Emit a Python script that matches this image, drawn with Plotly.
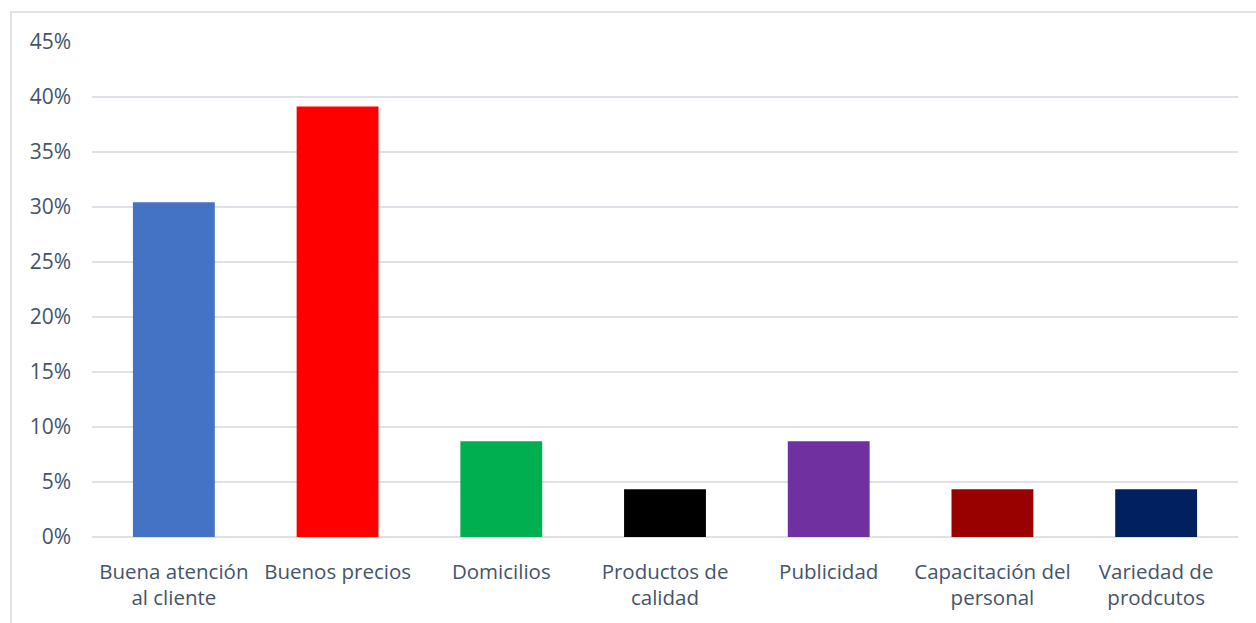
import plotly.graph_objects as go

# Factor categories and their share of responses
categorias = [
    "Buena atención<br>al cliente",
    "Buenos precios",
    "Domicilios",
    "Productos de<br>calidad",
    "Publicidad",
    "Capacitación del<br>personal",
    "Variedad de<br>prodcutos",
]
porcentajes = [0.3043, 0.3913, 0.0870, 0.0435, 0.0870, 0.0435, 0.0435]
colores = ["#4472C4", "#FF0000", "#00B050", "#000000", "#7030A0", "#990000", "#002060"]

ticks_y = [0, 0.05, 0.10, 0.15, 0.20, 0.25, 0.30, 0.35, 0.40, 0.45]
ticks_y_txt = ["0%", "5%", "10%", "15%", "20%", "25%", "30%", "35%", "40%", "45%"]

W, H = 1256, 623
ML, MR, MT, MB = 92, 18, 42, 86
pw, ph = W - ML - MR, H - MT - MB

fig = go.Figure(
    go.Bar(
        x=categorias,
        y=porcentajes,
        marker=dict(color=colores, line=dict(width=0)),
        width=0.5,
        hoverinfo="x+y",
    )
)

txt_color = "#44546A"
grid_color = "#DEE2E8"

fig.update_layout(
    width=W,
    height=H,
    margin=dict(l=ML, r=MR, t=MT, b=MB),
    paper_bgcolor="white",
    plot_bgcolor="white",
    showlegend=False,
    font=dict(family="Open Sans, Noto Sans, sans-serif", size=21, color=txt_color),
    bargap=0.5,
    xaxis=dict(
        showgrid=False,
        showline=False,
        zeroline=False,
        ticks="",
        tickfont=dict(size=20.5, color=txt_color),
        ticklabelstandoff=20,
    ),
    yaxis=dict(
        range=[0, 0.45],
        tickvals=ticks_y,
        ticktext=ticks_y_txt,
        showgrid=True,
        gridcolor=grid_color,
        gridwidth=1.5,
        zeroline=True,
        zerolinecolor=grid_color,
        zerolinewidth=1.5,
        showline=False,
        ticks="",
        tickfont=dict(size=21, color=txt_color),
        ticklabelstandoff=20,
    ),
    shapes=[
        dict(
            type="rect",
            xref="paper",
            yref="paper",
            x0=(11 - ML) / pw,
            x1=(W + 20 - ML) / pw,
            y0=(H - MB - (H + 20)) / ph,
            y1=(H - MB - 12) / ph,
            line=dict(color="#DEE2E8", width=2),
            fillcolor="rgba(0,0,0,0)",
            layer="below",
        )
    ],
)

fig.write_html("out.html")
